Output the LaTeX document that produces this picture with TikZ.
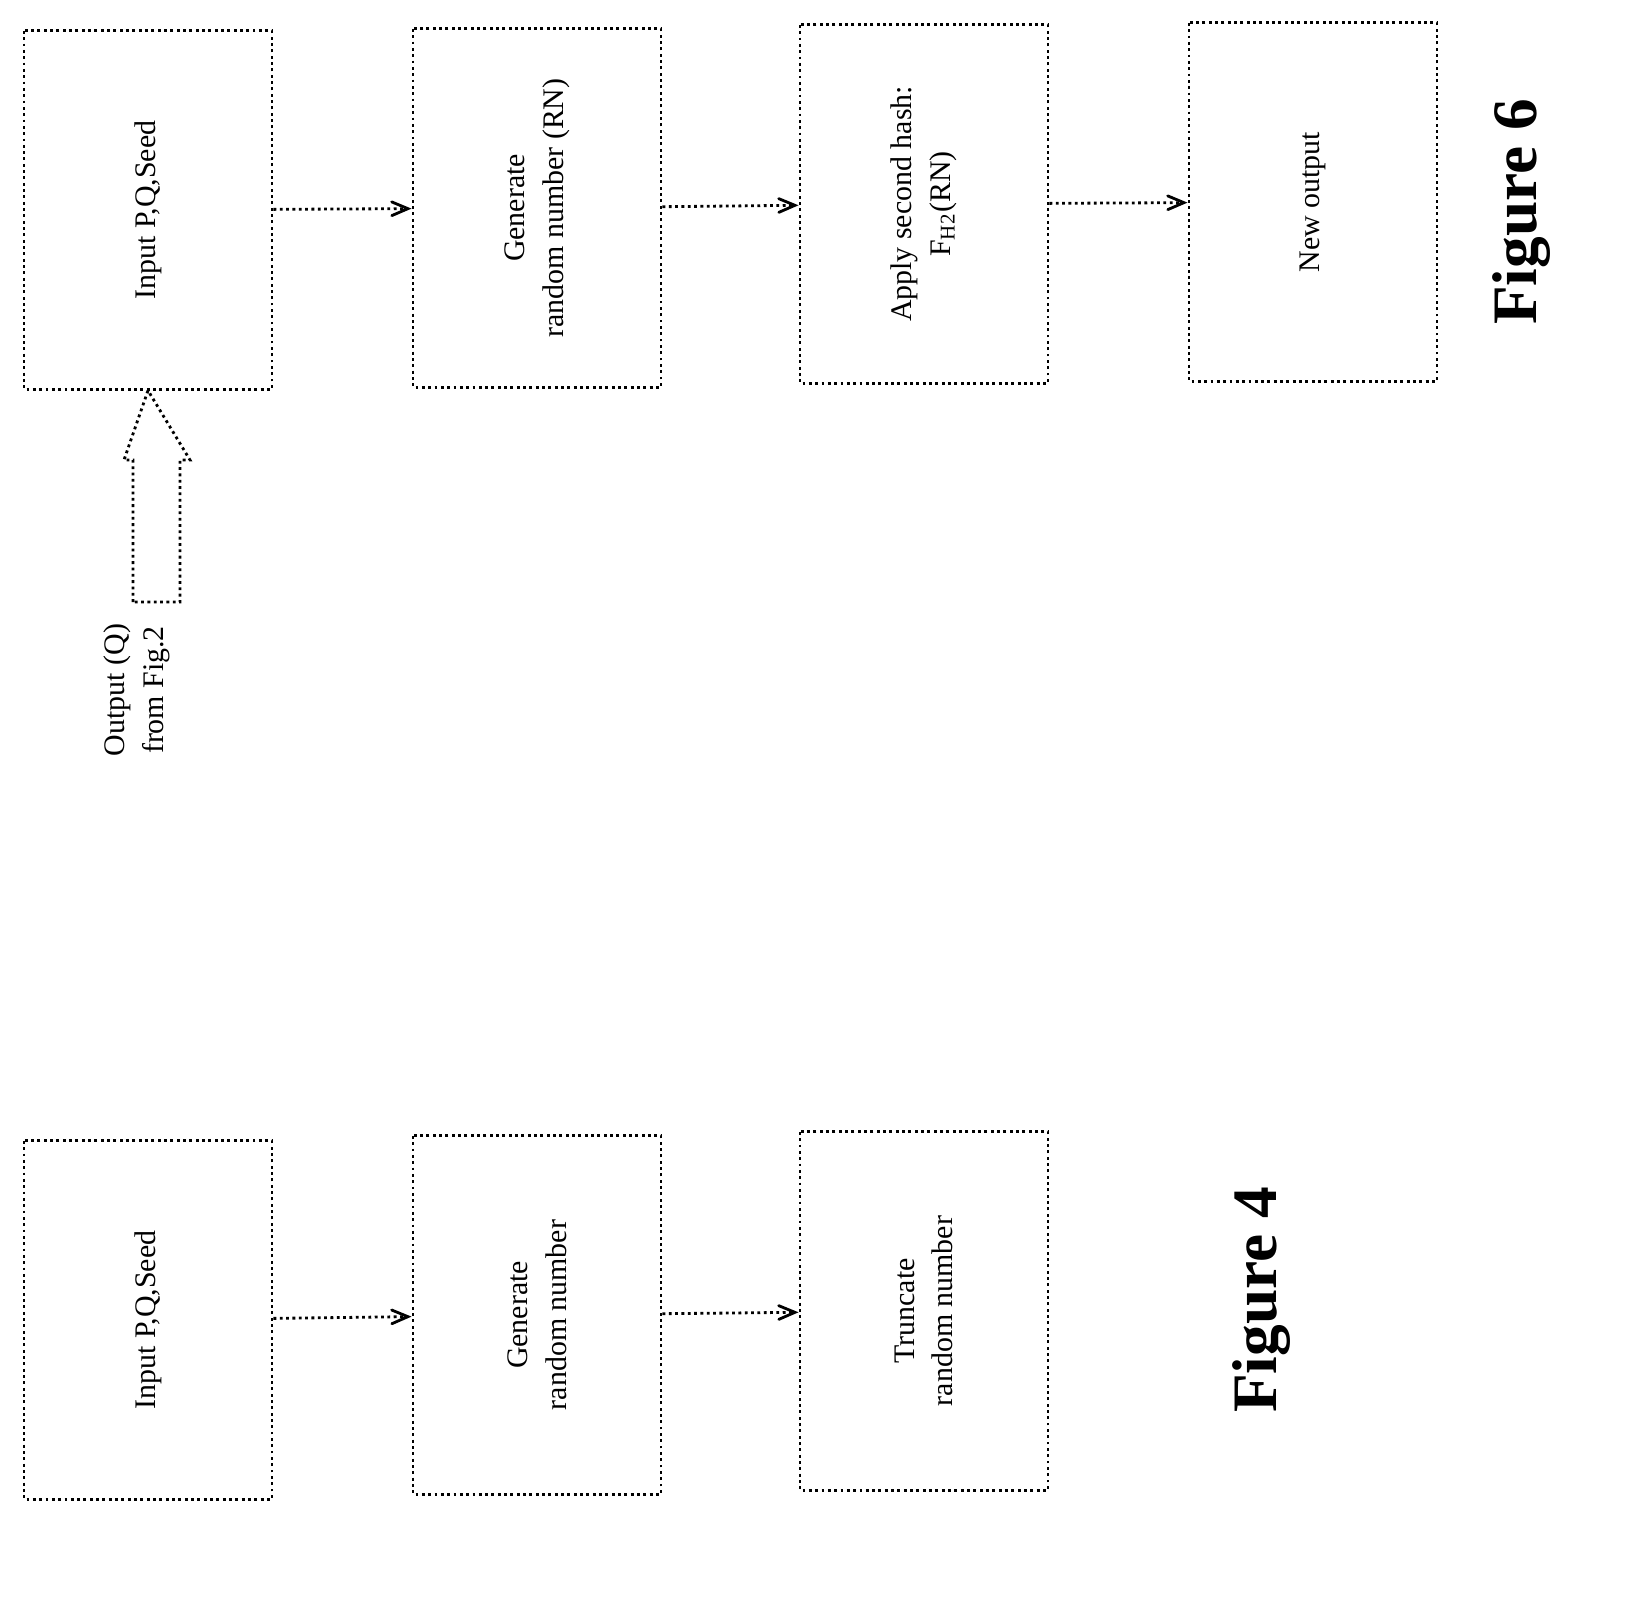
\documentclass[tikz,border=0pt]{standalone}
\usepackage{fontspec}
\setmainfont{Liberation Serif}
\usetikzlibrary{arrows}
\begin{document}
\begin{tikzpicture}[x=0.01cm,y=-0.01cm,
  every node/.style={font=\fontsize{8.5}{11}\selectfont},
  stage/.style={draw,densely dotted,thick,rotate=90,minimum width=3.58cm,minimum height=2.48cm,align=center,inner sep=0pt},
  flow/.style={draw,thick,densely dotted,->,>=angle 45}]
\tikzstyle{caption}=[rotate=90,font=\bfseries\fontsize{18}{22}\selectfont]
\useasboundingbox (0,0) rectangle (1645,1597);

% Figure 6
\node[stage] (in6)  at (148,210) {Input P,Q,Seed};
\node[stage] (gen6) at (537,208) {Generate\\random number (RN)};
\node[stage] (hash) at (924,204) {Apply second hash:\\F$_{\mathrm{H2}}$(RN)};
\node[stage] (out)  at (1313,202) {New output};
\draw[flow] (in6) -- (gen6);
\draw[flow] (gen6) -- (hash);
\draw[flow] (hash) -- (out);
\draw[thick,densely dotted] (133,602) -- (133,460) -- (124,460) -- (in6.west)
  -- (190,460) -- (180,460) -- (180,602) -- cycle;
\node[rotate=90,align=center] (src) at (137,690) {Output (Q)\\from Fig.2};
\node[caption] (fig6) at (1522,212) {Figure 6};

% Figure 4
\node[stage] (in4)  at (148,1320) {Input P,Q,Seed};
\node[stage] (gen4) at (537,1315) {Generate\\random number};
\node[stage] (trunc) at (924,1311) {Truncate\\random number};
\draw[flow] (in4) -- (gen4);
\draw[flow] (gen4) -- (trunc);
\node[caption] (fig4) at (1262,1300) {Figure 4};
\end{tikzpicture}
\end{document}
